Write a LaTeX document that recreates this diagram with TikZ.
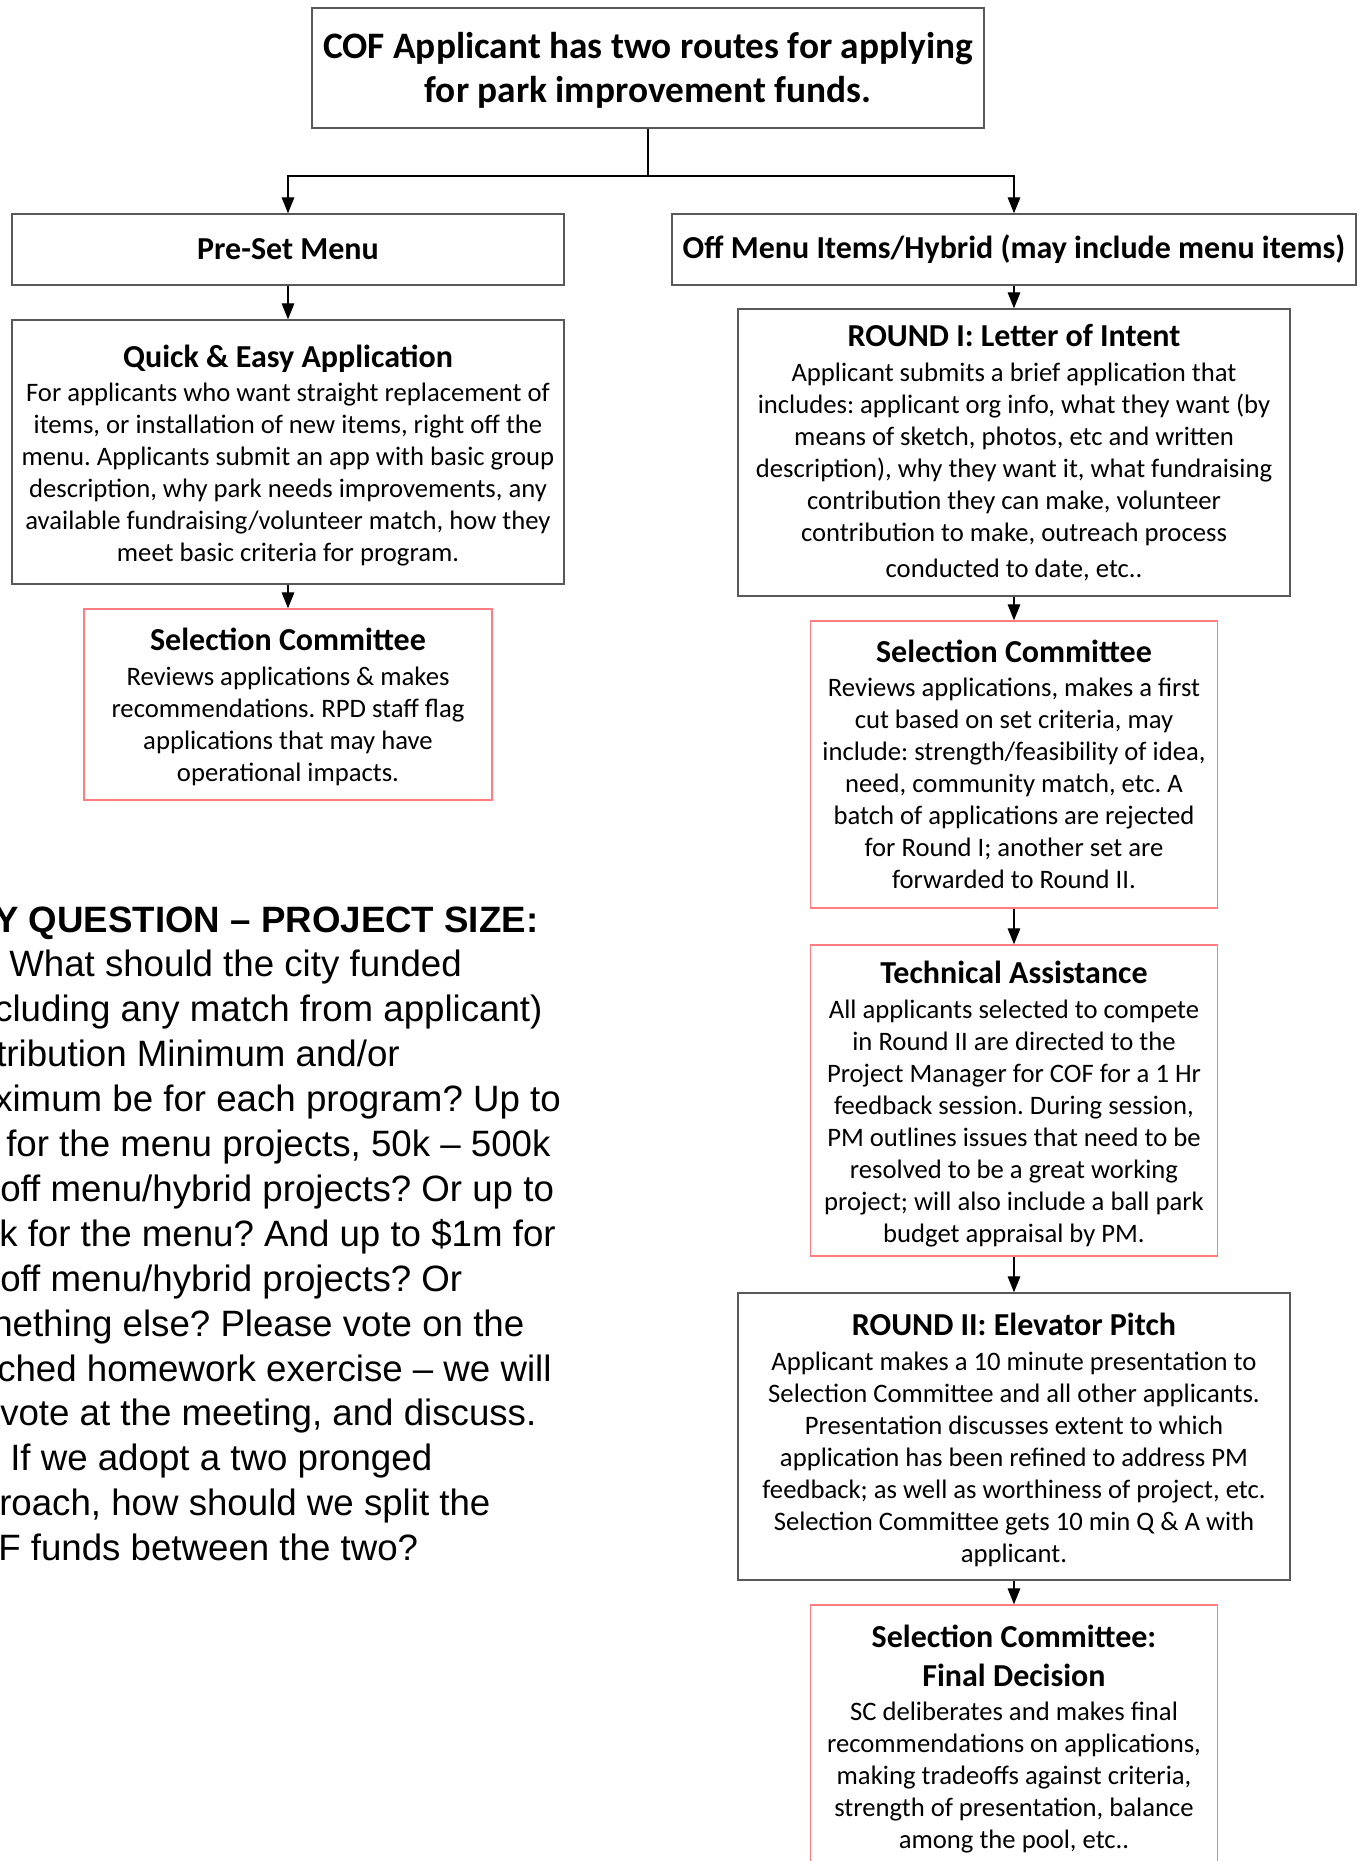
\documentclass[tikz,border=0pt]{standalone}
\usepackage{fontspec}
\setmainfont{Carlito}
\newfontfamily\arialf{Liberation Sans}
\usetikzlibrary{arrows.meta}
\definecolor{bx}{RGB}{89,89,89}
\definecolor{rbx}{RGB}{255,124,128}
\newcommand\boxtitle[2][0pt]{{\bfseries\fontsize{24}{28.8}\selectfont\rule{0pt}{#1}#2\par}\vspace{2pt}}
\frenchspacing
\begin{document}
\begin{tikzpicture}[x=0.75pt,y=-0.75pt,
  box/.style={draw=bx, line width=1.1pt, inner sep=0pt, align=flush center, font=\frenchspacing\fontsize{20}{24}\selectfont},
  redbox/.style={box, draw=rbx},
  arr/.style={-{Triangle[length=12pt,width=9.5pt]}, line width=0.8pt},
  link/.style={line width=0.8pt},
  q/.style={font=\arialf\fontsize{27.5}{33.7}\selectfont, anchor=base west, inner sep=0pt}
]
\fill[white] (0,0) rectangle (1364,1861);
\useasboundingbox (0,0) rectangle (1364,1861);

% top
\node[box, text width=504pt, minimum height=90pt, font=\bfseries\fontsize{28}{33.6}\selectfont] (top) at (648,68)
  {\rule{0pt}{23.2pt}COF Applicant has two routes for applying\\ for park improvement funds.};

% left column
\node[box, text width=414pt, minimum height=53.25pt, font=\bfseries\fontsize{24}{28.8}\selectfont] (preset) at (288,249.5) {Pre-Set Menu};
\node[box, text width=414pt, minimum height=198pt] (quick) at (288,452)
  {\boxtitle[22.2pt]{Quick \& Easy Application}For applicants who want straight replacement of\\ items, or installation of new items, right off the\\ menu. Applicants submit an app with basic group\\ description, why park needs improvements, any\\ available fundraising/volunteer match, how they\\ meet basic criteria for program.};
\node[redbox, text width=306pt, minimum height=143.25pt] (lsc) at (288,704.5)
  {\boxtitle[20.4pt]{Selection Committee}Reviews applications \& makes\\ recommendations. RPD staff flag\\ applications that may have\\ operational impacts.};

% right column
\node[box, text width=513pt, minimum height=53.25pt, font=\bfseries\fontsize{24}{28.8}\selectfont] (offmenu) at (1014,249.5) {Off Menu Items/Hybrid (may include menu items)};
\node[box, text width=414pt, minimum height=215.25pt] (round1) at (1014,452.5)
  {\boxtitle{ROUND I: Letter of Intent}Applicant submits a brief application that\\ includes: applicant org info, what they want (by\\ means of sketch, photos, etc and written\\ description), why they want it, what fundraising\\ contribution they can make, volunteer\\ contribution to make, outreach process\\[3pt] conducted to date, etc..};
\node[redbox, text width=305.25pt, minimum height=215.25pt] (rsc) at (1014,764.5)
  {\boxtitle{Selection Committee}Reviews applications, makes a first\\ cut based on set criteria, may\\ include: strength/feasibility of idea,\\ need, community match, etc. A\\ batch of applications are rejected\\ for Round I; another set are\\ forwarded to Round II.};
\node[redbox, text width=305.25pt, minimum height=233.25pt] (tech) at (1014,1100.5)
  {\boxtitle[22.2pt]{Technical Assistance}All applicants selected to compete\\ in Round II are directed to the\\ Project Manager for COF for a 1 Hr\\ feedback session. During session,\\ PM outlines issues that need to be\\ resolved to be a great working\\ project; will also include a ball park\\ budget appraisal by PM.};
\node[box, text width=414pt, minimum height=215.25pt] (round2) at (1014,1436.5)
  {\boxtitle[22.2pt]{ROUND II: Elevator Pitch}Applicant makes a 10 minute presentation to\\ Selection Committee and all other applicants.\\ Presentation discusses extent to which\\ application has been refined to address PM\\ feedback; as well as worthiness of project, etc.\\ Selection Committee gets 10 min Q \& A with\\ applicant.};
\node[redbox, text width=305.25pt, minimum height=198pt] (final) at (1014,1737)
  {\boxtitle[20.4pt]{Selection Committee:\\ Final Decision}SC deliberates and makes final\\ recommendations on applications,\\ making tradeoffs against criteria,\\ strength of presentation, balance\\ among the pool, etc..};

% connectors
\coordinate (split) at (648,176);
\draw[link] (top.south) -- (split);
\draw[arr] (split) -| (preset);
\draw[arr] (split) -| (offmenu);
\draw[arr] (preset) -- (quick);
\draw[arr] (quick) -- (lsc);
\draw[arr] (offmenu) -- (round1);
\draw[arr] (round1) -- (rsc);
\draw[arr] (rsc) -- (tech);
\draw[arr] (tech) -- (round2);
\draw[arr] (round2) -- (final);

% left question text (cut at the page edge)
\node[q, font=\arialf\bfseries\fontsize{27.5}{33.7}\selectfont] (q1) at (-6,932) {Y QUESTION – PROJECT SIZE:};
\node[q] (q2) at (9,976.9) {What should the city funded};
\node[q] (q3) at (-6,1021.8) {cluding any match from applicant)};
\node[q] (q4) at (-4,1066.7) {tribution Minimum and/or};
\node[q] (q5) at (-6,1111.6) {ximum be for each program? Up to};
\node[q] (q6) at (6,1156.5) {for the menu projects, 50k – 500k};
\node[q] (q7) at (0,1201.4) {off menu/hybrid projects? Or up to};
\node[q] (q8) at (-1,1246.3) {k for the menu? And up to \$1m for};
\node[q] (q9) at (0,1291.2) {off menu/hybrid projects? Or};
\node[q] (q10) at (-8,1336.1) {nething else? Please vote on the};
\node[q] (q11) at (-3,1381) {ched homework exercise – we will};
\node[q] (q12) at (0,1425.9) {vote at the meeting, and discuss.};
\node[q] (q13) at (10,1470.8) {If we adopt a two pronged};
\node[q] (q14) at (-1,1515.7) {roach, how should we split the};
\node[q] (q15) at (-2,1560.6) {F funds between the two?};
\end{tikzpicture}
\end{document}
